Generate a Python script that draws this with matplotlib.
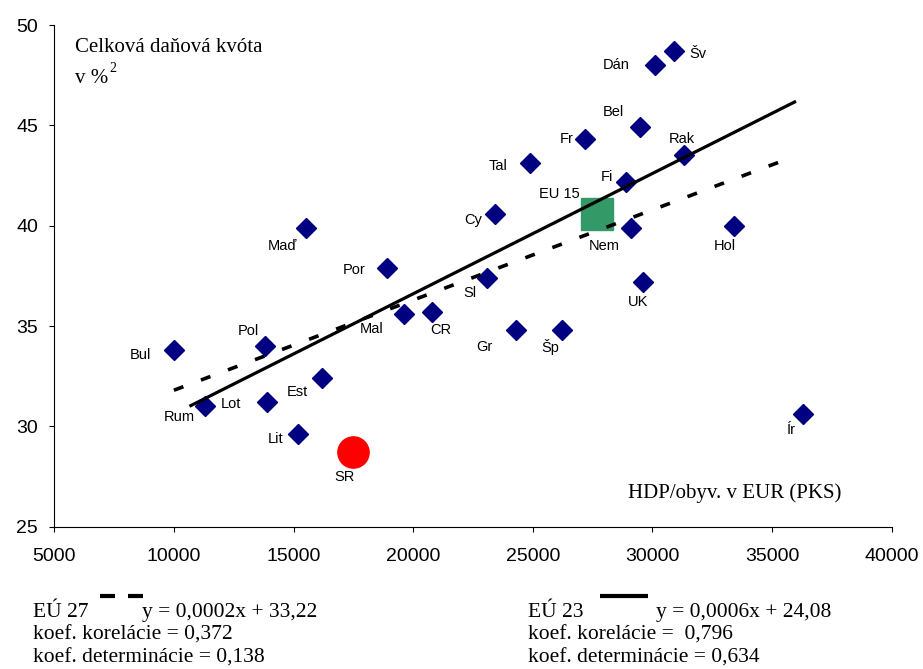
import matplotlib
matplotlib.use("Agg")
import matplotlib.pyplot as plt

# data: GDP per capita (EUR, PPS) vs total tax quota (%)
countries = ["Šv", "Dán", "Bel", "Fr", "Rak", "Tal", "Fi", "Cy", "Nem", "Hol",
             "Sl", "UK", "Gr", "Šp", "Ír", "Maď", "Por", "Bul", "Pol", "Mal",
             "CR", "Est", "Lot", "Rum", "Lit"]
gdp = [30900, 30100, 29500, 27200, 31300, 24900, 28900, 23400, 29100, 33400,
       23100, 29600, 24300, 26200, 36300, 15500, 18900, 10000, 13800, 19600,
       20800, 16200, 13900, 11300, 15200]
quota = [48.7, 48.0, 44.9, 44.3, 43.5, 43.1, 42.2, 40.6, 39.9, 40.0,
         37.4, 37.2, 34.8, 34.8, 30.6, 39.9, 37.9, 33.8, 34.0, 35.6,
         35.7, 32.4, 31.2, 31.0, 29.6]

sr_gdp, sr_quota = [17500], [28.7]
eu15_gdp, eu15_quota = [27700], [40.6]

# trend lines (end points)
eu27_x = [10000, 35700]
eu27_y = [31.8, 43.35]
eu23_x = [10650, 36000]
eu23_y = [31.0, 46.2]

# label offsets in pixels (dx, dy) from the marker centre
offsets = {
    "Šv": (24, -3), "Dán": (-39, 0), "Bel": (-27, 15), "Fr": (-19, 0),
    "Rak": (-2, 16), "Tal": (-32, -3), "Fi": (-19, 5), "Cy": (-21, -6),
    "Nem": (-27, -18), "Hol": (-9, -20), "Sl": (-17, -15), "UK": (-5, -20),
    "Gr": (-32, -17), "Šp": (-11, -17), "Ír": (-12, -16), "Maď": (-23, -18),
    "Por": (-33, -2), "Bul": (-33, -5), "Pol": (-16, 15), "Mal": (-32, -15),
    "CR": (8, -18), "Est": (-25, -14), "Lot": (-36, -2), "Rum": (-26, -11),
    "Lit": (-23, -5),
}

sans = "Liberation Sans"
serif = "Liberation Serif"

fig = plt.figure(figsize=(9.23, 6.69), dpi=100)
ax = fig.add_axes([0.0588, 0.2127, 0.9073, 0.7499])

ax.plot(eu15_gdp, eu15_quota, ls="none", marker="s", ms=22.8,
        color="#339966", mec="#339966", zorder=2)
ax.plot(gdp, quota, ls="none", marker="D", ms=10, color="#000080",
        mec="#000080", zorder=3)
ax.plot(sr_gdp, sr_quota, ls="none", marker="o", ms=22.5, color="#ff0000",
        mec="#ff0000", zorder=3)

ax.plot(eu23_x, eu23_y, color="black", lw=2.3, solid_capstyle="butt", zorder=4)
ax.plot(eu27_x, eu27_y, color="black", lw=2.6, dashes=(2.8, 5.2),
        dash_capstyle="butt", zorder=4)

for name, x, y in zip(countries, gdp, quota):
    dx, dy = offsets[name]
    ax.annotate(name, (x, y), xytext=(dx, dy), textcoords="offset pixels",
                ha="center", va="center", fontsize=10.5, family=sans)
ax.annotate("SR", (sr_gdp[0], sr_quota[0]), xytext=(-9, -25),
            textcoords="offset pixels", ha="center", va="center",
            fontsize=10.5, family=sans)
ax.annotate("EU 15", (eu15_gdp[0], eu15_quota[0]), xytext=(-38, 20),
            textcoords="offset pixels", ha="center", va="center",
            fontsize=10.5, family=sans)

ax.set_xlim(5000, 40000)
ax.set_ylim(25, 50)
ax.set_xticks(range(5000, 40001, 5000))
ax.set_yticks(range(25, 51, 5))
for side in ("top", "right"):
    ax.spines[side].set_visible(False)
for side in ("left", "bottom"):
    ax.spines[side].set_linewidth(0.8)
ax.tick_params(direction="out", length=3.6, width=0.8, labelsize=14)
ax.tick_params(axis="x", pad=12)
ax.tick_params(axis="y", pad=8)
for lab in ax.get_xticklabels() + ax.get_yticklabels():
    lab.set_fontfamily(sans)

# axis captions inside the plot
fig.text(75 / 923, 1 - 51.7 / 669, "Celková daňová kvóta", family=serif,
         fontsize=15, va="baseline")
fig.text(75 / 923, 1 - 83 / 669, "v %", family=serif, fontsize=15,
         va="baseline")
fig.text(109 / 923, 1 - 72 / 669, "2", family=serif, fontsize=10,
         va="baseline")
fig.text(628 / 923, 1 - 498 / 669, "HDP/obyv. v EUR (PKS)", family=serif,
         fontsize=15, va="baseline")

# regression notes under the chart
fs = 15.5
rows = [617, 640, 663]
fig.text(33 / 923, 1 - rows[0] / 669, "EÚ 27", family=serif, fontsize=fs,
         va="baseline")
fig.text(142 / 923, 1 - rows[0] / 669, "y = 0,0002x + 33,22", family=serif,
         fontsize=fs, va="baseline")
fig.text(33 / 923, 1 - rows[1] / 669, "koef. korelácie = 0,372",
         family=serif, fontsize=fs, va="baseline")
fig.text(33 / 923, 1 - rows[2] / 669, "koef. determinácie = 0,138",
         family=serif, fontsize=fs, va="baseline")

fig.text(528 / 923, 1 - rows[0] / 669, "EÚ 23", family=serif, fontsize=fs,
         va="baseline")
fig.text(656 / 923, 1 - rows[0] / 669, "y = 0,0006x + 24,08", family=serif,
         fontsize=fs, va="baseline")
fig.text(528 / 923, 1 - rows[1] / 669, "koef. korelácie =  0,796",
         family=serif, fontsize=fs, va="baseline")
fig.text(528 / 923, 1 - rows[2] / 669, "koef. determinácie = 0,634",
         family=serif, fontsize=fs, va="baseline")

# legend line samples
y_leg = 1 - 596 / 669
fig.add_artist(plt.Line2D([100 / 923, 115 / 923], [y_leg, y_leg],
                          color="black", lw=3, solid_capstyle="butt"))
fig.add_artist(plt.Line2D([128 / 923, 143 / 923], [y_leg, y_leg],
                          color="black", lw=3, solid_capstyle="butt"))
fig.add_artist(plt.Line2D([600 / 923, 648 / 923], [y_leg, y_leg],
                          color="black", lw=3, solid_capstyle="butt"))

fig.savefig("out.png", dpi=100)
